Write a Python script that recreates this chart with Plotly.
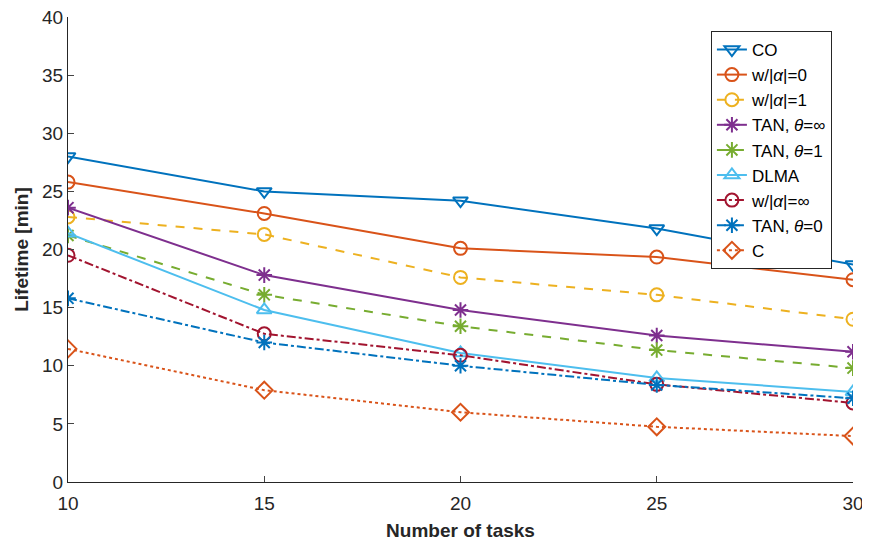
import plotly.graph_objects as go

tasks = [10, 15, 20, 25, 30]
co = [28.0, 25.0, 24.2, 21.8, 18.7]
w_a0 = [25.8, 23.1, 20.1, 19.35, 17.4]
w_a1 = [22.8, 21.3, 17.6, 16.1, 14.0]
tan_inf = [23.6, 17.8, 14.8, 12.6, 11.2]
tan_1 = [21.2, 16.1, 13.4, 11.35, 9.8]
dlma = [21.4, 14.8, 11.1, 8.95, 7.75]
w_ainf = [19.5, 12.75, 10.9, 8.4, 6.8]
tan_0 = [15.8, 12.0, 10.0, 8.35, 7.2]
c_vals = [11.45, 7.9, 6.0, 4.75, 3.95]

names = ["CO", "w/|<i>α</i>|=0", "w/|<i>α</i>|=1", "TAN, <i>θ</i>=∞", "TAN, <i>θ</i>=1",
         "DLMA", "w/|<i>α</i>|=∞", "TAN, <i>θ</i>=0", "C"]
series = [co, w_a0, w_a1, tan_inf, tan_1, dlma, w_ainf, tan_0, c_vals]
colors = ["#0072BD", "#D95319", "#EDB120", "#7E2F8E", "#77AC30",
          "#4DBEEE", "#A2142F", "#0072BD", "#D95319"]
dashes = ["solid", "solid", "dash", "solid", "dash", "solid", "dashdot", "dashdot", "dot"]
symbols = ["triangle-down-open", "circle-open", "circle-open", "asterisk-open", "asterisk-open",
           "triangle-up-open", "circle-open", "asterisk-open", "diamond-open"]

fig = go.Figure()
for n, s, c, d, m in zip(names, series, colors, dashes, symbols):
    fig.add_trace(go.Scatter(
        x=tasks, y=s, name=n, mode="lines+markers",
        line=dict(color=c, width=2, dash=d),
        marker=dict(symbol=m, size=13, color=c, line=dict(color=c, width=2)),
    ))

# page body has an 8px default margin, so the figure is sized to fit the window
fig.update_layout(
    width=862, height=535,
    margin=dict(l=60, r=17, t=9, b=61),
    paper_bgcolor="white", plot_bgcolor="white",
    font=dict(family="Liberation Sans, Arial, sans-serif", color="#262626"),
    showlegend=True,
    legend=dict(
        x=0.819, y=0.97, xanchor="left", yanchor="top",
        bordercolor="#262626", borderwidth=1, bgcolor="white",
        font=dict(size=17, color="black"),
        tracegroupgap=0, itemwidth=30,
    ),
    xaxis=dict(
        range=[10, 30], tickvals=tasks, ticks="inside", ticklen=6, automargin=False,
        ticklabeloverflow="allow", ticklabelstandoff=4,
        showline=True, linecolor="#262626", linewidth=1, showgrid=False, zeroline=False,
        tickfont=dict(size=19, color="#262626"),
        title=dict(text="<b>Number of tasks</b>", font=dict(size=19, color="#262626"), standoff=10),
    ),
    yaxis=dict(
        range=[0, 40], tickvals=[0, 5, 10, 15, 20, 25, 30, 35, 40], ticks="inside", ticklen=6,
        automargin=False, ticklabeloverflow="allow",
        showline=True, linecolor="#262626", linewidth=1, showgrid=False, zeroline=False,
        tickfont=dict(size=19, color="#262626"),
        title=dict(text="<b>Lifetime [min]</b>", font=dict(size=19, color="#262626"), standoff=8),
    ),
)

fig.write_html("out.html")
